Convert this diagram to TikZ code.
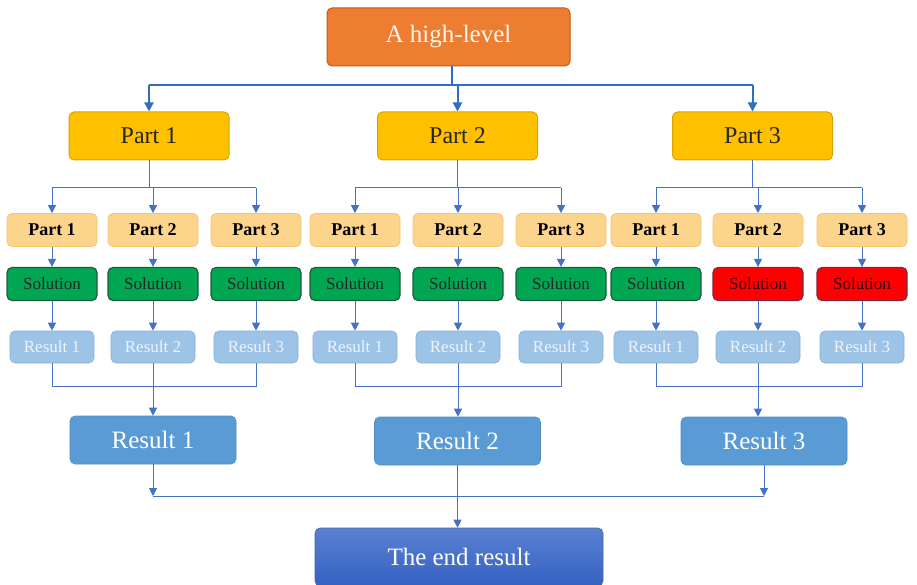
\documentclass[tikz,border=0pt]{standalone}
\usepackage{fontspec}
\setmainfont{Liberation Serif}
\usetikzlibrary{arrows.meta}
\definecolor{topfill}{HTML}{ED7D31}
\definecolor{topline}{HTML}{C55A11}
\definecolor{partfill}{HTML}{FFC000}
\definecolor{partline}{HTML}{D9A400}
\definecolor{subfill}{HTML}{FCD48C}
\definecolor{subline}{HTML}{F6C56E}
\definecolor{okfill}{HTML}{00A651}
\definecolor{okline}{HTML}{205C3C}
\definecolor{badfill}{HTML}{FF0000}
\definecolor{badline}{HTML}{7A2A45}
\definecolor{smallres}{HTML}{9DC3E6}
\definecolor{smallresline}{HTML}{86B0DC}
\definecolor{smallrestext}{HTML}{EEF3FB}
\definecolor{bigres}{HTML}{5B9BD5}
\definecolor{endtop}{HTML}{5A80D2}
\definecolor{endbot}{HTML}{3462C2}
\definecolor{linkblue}{HTML}{4472C4}
\definecolor{mainblue}{HTML}{2E6FBF}
\tikzset{
  box/.style={rectangle, rounded corners=5pt, inner sep=0pt, align=center},
  topbox/.style={box, fill=topfill, draw=topline, line width=1pt, text=white!92!orange,
    minimum width=243pt, minimum height=58pt, font=\fontsize{25}{28}\selectfont},
  partbox/.style={box, fill=partfill, draw=partline, line width=1pt, text=black!85,
    minimum width=160pt, minimum height=48pt, font=\fontsize{24}{26}\selectfont},
  subbox/.style={box, fill=subfill, draw=subline, line width=0.8pt, text=black,
    minimum width=90pt, minimum height=33pt, font=\fontsize{18}{20}\selectfont\bfseries},
  okbox/.style={box, fill=okfill, draw=okline, line width=1.2pt, text=black!85,
    minimum width=90pt, minimum height=33pt, font=\fontsize{17}{19}\selectfont},
  badbox/.style={box, fill=badfill, draw=badline, line width=1.2pt, text=black!80!red,
    minimum width=90pt, minimum height=33pt, font=\fontsize{17}{19}\selectfont},
  smallresbox/.style={box, fill=smallres, draw=smallresline, line width=0.6pt, text=smallrestext,
    minimum width=84pt, minimum height=32pt, font=\fontsize{17}{19}\selectfont},
  bigresbox/.style={box, fill=bigres, draw=bigres!90!black, line width=0.6pt, text=white,
    minimum width=166pt, minimum height=48pt, font=\fontsize{25}{27}\selectfont},
  endbox/.style={box, top color=endtop, bottom color=endbot, draw=endtop!80!black, line width=0.6pt,
    text=white, minimum width=288pt, minimum height=58pt, font=\fontsize{25}{27}\selectfont},
  link/.style={draw=linkblue, line width=1pt},
  linkarrow/.style={link, -{Triangle[length=8pt,width=8pt]}},
  mainlink/.style={draw=mainblue, line width=2pt},
  mainarrow/.style={mainlink, -{Triangle[length=9pt,width=9pt]}},
}
\begin{document}
\begin{tikzpicture}[x=1pt, y=-1pt]
\useasboundingbox (0,0) rectangle (917,585);

% top level
\node[topbox] (top) at (448.5,37) {A high-level};

% three parts
\node[partbox] (p1) at (149,136) {Part 1};
\node[partbox] (p2) at (457.5,136) {Part 2};
\node[partbox] (p3) at (752.5,136) {Part 3};

\coordinate (tj) at (452,85);
\draw[mainlink] (top.south -| tj) -- (tj);
\draw[mainlink] (p1.north |- tj) -- (p3.north |- tj);
\foreach \p in {p1,p2,p3} \draw[mainarrow] (\p.north |- tj) -- (\p.north);

% sub parts, solutions and partial results, one column each
\foreach \g/\c/\x/\sol in {1/1/52/okbox, 1/2/153/okbox, 1/3/256/okbox,
                          2/1/355/okbox, 2/2/458/okbox, 2/3/561/okbox,
                          3/1/656/okbox, 3/2/758/badbox, 3/3/862/badbox}{
  \node[subbox] (s\g\c) at (\x,230) {Part \c};
  \node[\sol] (v\g\c) at (\x,284) {Solution};
  \node[smallresbox] (r\g\c) at (\x,347) {Result \c};
  \draw[linkarrow] (s\g\c) -- (v\g\c);
  \draw[linkarrow] (v\g\c) -- (r\g\c);
}

% big results
\node[bigresbox] (R1) at (153,440) {Result 1};
\node[bigresbox] (R2) at (457.5,441) {Result 2};
\node[bigresbox] (R3) at (764,441) {Result 3};

% fork from each part to its sub parts, and join of partial results
\foreach \g in {1,2,3}{
  \coordinate (f\g) at (0,188);
  \draw[link] (p\g.south) -- (p\g.south |- f\g);
  \draw[link] (s\g1.north |- f\g) -- (s\g3.north |- f\g);
  \foreach \c in {1,2,3} \draw[linkarrow] (s\g\c.north |- f\g) -- (s\g\c.north);
  \coordinate (j\g) at (0,386);
  \draw[link] (r\g1.south) -- (r\g1.south |- j\g) -- (r\g3.south |- j\g) -- (r\g3.south);
  \draw[linkarrow] (r\g2.south) -- (R\g.north -| r\g2.south);
}

% end result
\node[endbox] (E) at (459,557) {The end result};
\coordinate (bj) at (0,496);
\draw[linkarrow] (R1.south) -- (R1.south |- bj);
\draw[linkarrow] (R3.south) -- (R3.south |- bj);
\draw[link] (R1.south |- bj) -- (R3.south |- bj);
\draw[linkarrow] (R2.south) -- (E.north -| R2.south);
\end{tikzpicture}
\end{document}
